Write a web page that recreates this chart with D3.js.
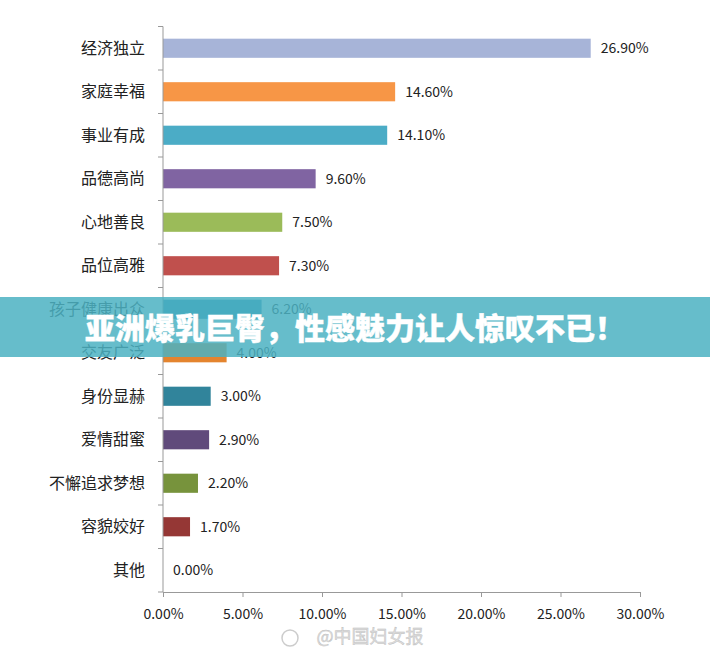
<!DOCTYPE html>
<html><head><meta charset="utf-8">
<script src="https://cdn.jsdelivr.net/npm/d3@7"></script>
<style>body{margin:0;background:#fff}svg{display:block}</style>
</head><body><svg id="c" width="710" height="655"></svg>
<script>
const categories = ['经济独立','家庭幸福','事业有成','品德高尚','心地善良','品位高雅','孩子健康出众','交友广泛','身份显赫','爱情甜蜜','不懈追求梦想','容貌姣好','其他'];
const values = [26.9,14.6,14.1,9.6,7.5,7.3,6.2,4.0,3.0,2.9,2.2,1.7,0];
const colors = ['#a7b4d8','#f79646','#4bacc6','#8064a2','#9bbb59','#c0504d','#2f8fb5','#e4842e','#31849b','#604a7b','#77933c','#953735','#888'];
const xTicks = [0,5,10,15,20,25,30];

const svg = d3.select('#c');
const font = '"Noto Sans CJK SC", "Open Sans", sans-serif';
const x = d3.scaleLinear().domain([0,30]).range([163,640]);
const y = d3.scaleBand().domain(categories).range([26.5,592]).paddingInner(0.56).paddingOuter(0.28);
const yb = d3.scaleBand().domain(categories).range([26.5,592]);

svg.selectAll('rect.bar').data(values).enter().append('rect')
  .attr('x', x(0)).attr('y', (d,i)=>y(categories[i]))
  .attr('width', d=>x(d)-x(0)).attr('height', y.bandwidth())
  .attr('fill', (d,i)=>colors[i]);

svg.selectAll('text.val').data(values).enter().append('text')
  .attr('x', d=>x(d)+10).attr('y', (d,i)=>y(categories[i])+y.bandwidth()/2)
  .attr('dy','0.35em').attr('font-size',14).attr('font-family',font).attr('fill','#222')
  .text(d=>d.toFixed(2)+'%');

// y axis
const ya = svg.append('g');
ya.append('line').attr('x1',163).attr('x2',163).attr('y1',26.5).attr('y2',592).attr('stroke','#999');
ya.selectAll('line.t').data(d3.range(categories.length+1)).enter().append('line')
  .attr('x1',158).attr('x2',163).attr('y1',i=>26.5+i*yb.step()).attr('y2',i=>26.5+i*yb.step()).attr('stroke','#999');
ya.selectAll('text').data(categories).enter().append('text')
  .attr('x',145).attr('y',d=>yb(d)+yb.bandwidth()/2).attr('dy','0.35em')
  .attr('text-anchor','end').attr('font-size',16).attr('font-family',font).attr('fill','#222').text(d=>d);

// x axis
const xa = svg.append('g').attr('transform','translate(0,592)')
  .call(d3.axisBottom(x).tickValues(xTicks).tickSize(5).tickFormat(d=>d.toFixed(2)+'%'));
xa.select('.domain').attr('stroke','#999');
xa.selectAll('line').attr('stroke','#999');
xa.selectAll('text').attr('font-size',14).attr('font-family',font).attr('fill','#222').attr('dy','1.35em');

// watermark
svg.append('text').attr('x',370).attr('y',643).attr('text-anchor','middle')
  .attr('font-size',18).attr('font-family',font).attr('fill','#ddd').attr('stroke','#bbb').attr('stroke-width',0.4).text('@中国妇女报');
svg.append('circle').attr('cx',290).attr('cy',638).attr('r',8).attr('fill','none').attr('stroke','#ccc').attr('stroke-width',1.5);

// banner
svg.append('rect').attr('x',0).attr('y',297).attr('width',710).attr('height',60).attr('fill','rgba(75,178,194,0.85)');
svg.append('text').attr('x',355).attr('y',328).attr('dy','0.35em').attr('text-anchor','middle')
  .attr('font-size',30).attr('font-weight',900).attr('font-family',font).attr('fill','#fff')
  .attr('stroke','#fff').attr('stroke-width',0.4).text('亚洲爆乳巨臀，性感魅力让人惊叹不已！');
</script></body></html>
